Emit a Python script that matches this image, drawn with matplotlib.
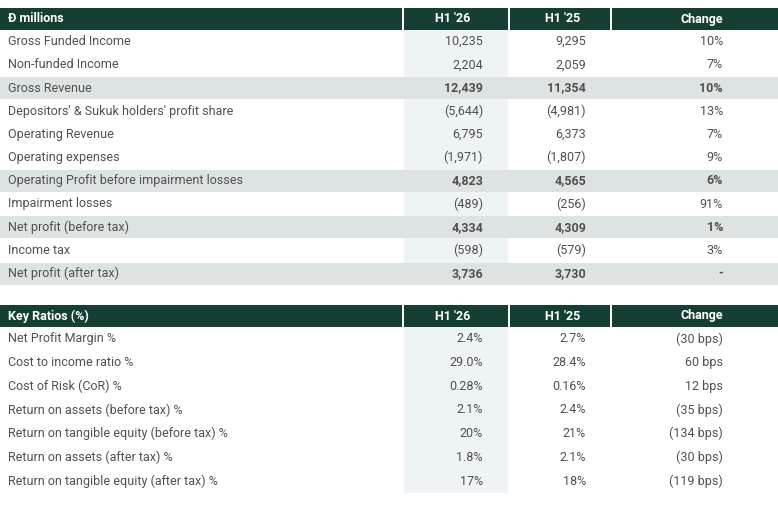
import matplotlib.pyplot as plt
from matplotlib.patches import Rectangle

plt.rcParams['font.family'] = ['Roboto', 'DejaVu Sans']

cols = ["H1 '26", "H1 '25", "Change"]

t1_labels = ["Gross Funded Income", "Non-funded Income", "Gross Revenue",
             "Depositors' & Sukuk holders' profit share", "Operating Revenue",
             "Operating expenses", "Operating Profit before impairment losses",
             "Impairment losses", "Net profit (before tax)", "Income tax",
             "Net profit (after tax)"]
t1_h126 = ["10,235", "2,204", "12,439", "(5,644)", "6,795", "(1,971)", "4,823",
           "(489)", "4,334", "(598)", "3,736"]
t1_h125 = ["9,295", "2,059", "11,354", "(4,981)", "6,373", "(1,807)", "4,565",
           "(256)", "4,309", "(579)", "3,730"]
t1_chg = ["10%", "7%", "10%", "13%", "7%", "9%", "6%", "91%", "1%", "3%", "-"]
t1_bold = [2, 6, 8, 10]

t2_labels = ["Net Profit Margin %", "Cost to income ratio %", "Cost of Risk (CoR) %",
             "Return on assets (before tax) %", "Return on tangible equity (before tax) %",
             "Return on assets (after tax) %", "Return on tangible equity (after tax) %"]
t2_h126 = ["2.4%", "29.0%", "0.28%", "2.1%", "20%", "1.8%", "17%"]
t2_h125 = ["2.7%", "28.4%", "0.16%", "2.4%", "21%", "2.1%", "18%"]
t2_chg = ["(30 bps)", "60 bps", "12 bps", "(35 bps)", "(134 bps)", "(30 bps)", "(119 bps)"]

W, H = 778, 507
fig = plt.figure(figsize=(W / 100, H / 100), dpi=100)
ax = fig.add_axes([0, 0, 1, 1])
ax.set_xlim(0, W)
ax.set_ylim(H, 0)
ax.axis('off')

green = '#163f34'
txt = '#505050'
col_x = [(0, 402), (404, 508), (510, 610), (612, 778)]
right_x = [483, 586, 723]
head_x = [453, 563, 702]


def table(y0, title, labels, v1, v2, v3, bold, rh, hh=22):
    for (a, b) in col_x:
        ax.add_patch(Rectangle((a, y0), b - a, hh, color=green, lw=0))
    ax.text(8, y0 + hh / 2, title, color='white', fontsize=9, fontweight='bold', va='center')
    for x, c in zip(head_x, cols):
        ax.text(x, y0 + hh / 2, c, color='white', fontsize=9, fontweight='bold',
                va='center', ha='center')
    top = y0 + hh
    n = len(labels)
    ax.add_patch(Rectangle((404, top), 104, rh * n, color='#eef3f5', lw=0))
    for i in range(n):
        y = top + i * rh
        b = i in bold
        if b:
            ax.add_patch(Rectangle((0, y + 0.5), W, rh - 1, color='#dde3e3', lw=0))
        fw = 'bold' if b else 'normal'
        ax.text(8, y + rh / 2, labels[i], color=txt, fontsize=9, va='center')
        for x, v in zip(right_x, (v1[i], v2[i], v3[i])):
            ax.text(x, y + rh / 2, v, color=txt, fontsize=9, va='center', ha='right',
                    fontweight=fw)


table(8, "\u0110 millions", t1_labels, t1_h126, t1_h125, t1_chg, t1_bold, 23.2)
table(305, "Key Ratios (%)", t2_labels, t2_h126, t2_h125, t2_chg, [], 23.7)

fig.savefig('out.png', dpi=100)
